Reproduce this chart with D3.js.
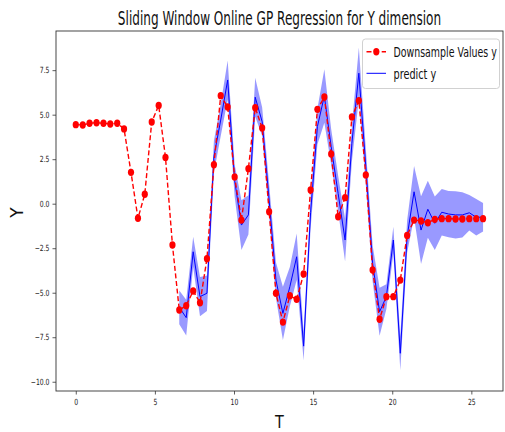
<!DOCTYPE html>
<html>
<head>
<meta charset="utf-8">
<script src="https://cdn.jsdelivr.net/npm/d3@7"></script>
<style>
  body { margin: 0; background: #fff; }
  svg { display: block; font-family: "DejaVu Sans", sans-serif; }
</style>
</head>
<body>
<div id="chart"></div>
<script>
// time stamps of the downsampled points
const T = [0, 0.44, 0.87, 1.31, 1.75, 2.18, 2.62, 3.05, 3.49, 3.93,
    4.36, 4.80, 5.24, 5.67, 6.11, 6.54, 6.98, 7.42, 7.85, 8.29,
    8.73, 9.16, 9.60, 10.04, 10.47, 10.91, 11.34, 11.78, 12.22, 12.65,
    13.09, 13.53, 13.96, 14.40, 14.84, 15.27, 15.71, 16.14, 16.58, 17.02,
    17.45, 17.89, 18.33, 18.76, 19.20, 19.63, 20.07, 20.51, 20.94, 21.38,
    21.82, 22.25, 22.69, 23.13, 23.56, 24.00, 24.43, 24.87, 25.31, 25.74];

const downsampleY = [4.44, 4.42, 4.52, 4.55, 4.52, 4.48, 4.52, 4.20, 1.76, -0.82,
    0.53, 4.59, 5.52, 2.60, -2.32, -5.97, -5.73, -4.90, -5.56, -3.09,
    2.19, 6.07, 5.43, 1.50, -0.92, 1.97, 5.39, 4.25, -0.45, -5.03,
    -6.65, -5.17, -5.37, -3.95, 0.77, 5.30, 5.99, 2.79, -0.73, 0.34,
    4.87, 5.79, 1.61, -3.72, -6.49, -5.22, -5.22, -4.29, -1.78, -0.92,
    -0.97, -1.07, -0.88, -0.84, -0.84, -0.86, -0.86, -0.84, -0.84, -0.84];

// GP prediction starts once the window is filled
const predictT = T.slice(15);
const predictY = [-5.82, -6.40, -2.70, -5.22, -5.03, 2.64, 4.70, 6.95, 1.30, -1.20,
    -0.63, 5.98, 4.60, 0.20, -4.29, -6.16, -4.66, -2.98, -8.00, -0.50,
    4.33, 6.05, 3.20, 0.58, -2.04, 3.39, 7.33, 2.08, -3.35, -6.07,
    -5.22, -2.04, -8.40, -1.85, 0.67, -1.48, -0.31, -1.10, -0.48, -0.58,
    -0.63, -0.63, -0.51, -0.76, -0.76];
const predictBand = [0.95, 1.0, 0.85, 1.1, 1.0, 0.9, 0.9, 1.1, 0.9, 1.4,
    1.1, 1.1, 0.8, 0.9, 1.0, 1.5, 1.1, 1.3, 0.8, 0.9,
    1.0, 1.5, 1.0, 1.0, 1.2, 1.0, 1.45, 1.0, 1.0, 1.35,
    0.7, 0.75, 0.95, 0.9, 1.45, 1.9, 1.6, 1.5, 1.3, 1.3,
    1.33, 1.27, 1.0, 1.03, 0.8];

const xTicks = [0, 5, 10, 15, 20, 25];
const yTicks = [-10, -7.5, -5, -2.5, 0, 2.5, 5, 7.5];

const W = 505, H = 432;
const plot = {left: 56, right: 503, top: 31, bottom: 391};
const squeeze = 0.72; // the picture is horizontally compressed

let svg = d3.select("#chart").append("svg")
    .attr("width", W)
    .attr("height", H);

let x = d3.scaleLinear().domain([-1.25, 27.0]).range([plot.left, plot.right]);
let y = d3.scaleLinear().domain([-10.52, 9.70]).range([plot.bottom, plot.top]);

// squeezed text placed at (px, py)
function label(parent, px, py, txt, size, k, anchor) {
    return parent.append("text")
        .attr("transform", "translate(" + px + "," + py + ") scale(" + k + ",1)")
        .attr("text-anchor", anchor || "start")
        .style("font-size", size + "px")
        .attr("fill", "#111")
        .text(txt);
}

// confidence band
let pred = predictT.map((t, i) => ({t: t, m: predictY[i], s: predictBand[i]}));
svg.append("path")
    .datum(pred)
    .attr("d", d3.area().x(d => x(d.t)).y0(d => y(d.m - d.s)).y1(d => y(d.m + d.s)))
    .attr("fill", "#0000ff")
    .attr("fill-opacity", 0.4)
    .attr("stroke", "none");

// prediction line
svg.append("path")
    .datum(pred)
    .attr("d", d3.line().x(d => x(d.t)).y(d => y(d.m)))
    .attr("fill", "none")
    .attr("stroke", "#0000ff")
    .attr("stroke-width", 1);

// downsampled values
let pts = T.map((t, i) => ({t: t, v: downsampleY[i]}));
svg.append("path")
    .datum(pts)
    .attr("d", d3.line().x(d => x(d.t)).y(d => y(d.v)))
    .attr("fill", "none")
    .attr("stroke", "#ff0000")
    .attr("stroke-width", 1.4)
    .attr("stroke-dasharray", "5,2.6");
svg.append("g").selectAll("ellipse")
    .data(pts)
    .enter().append("ellipse")
    .attr("cx", d => x(d.t))
    .attr("cy", d => y(d.v))
    .attr("rx", 3.1)
    .attr("ry", 3.7)
    .attr("fill", "#ff0000");

// axes
let xAxis = svg.append("g")
    .attr("transform", "translate(0," + plot.bottom + ")")
    .call(d3.axisBottom(x).tickValues(xTicks).tickFormat(d3.format("d")).tickSizeOuter(0).tickSize(3.5).tickPadding(4));
let yAxis = svg.append("g")
    .attr("transform", "translate(" + plot.left + ",0)")
    .call(d3.axisLeft(y).tickValues(yTicks).tickFormat(d => d3.format(".1f")(d).replace("-", "\u2212")).tickSizeOuter(0).tickSize(3.5).tickPadding(3));
[xAxis, yAxis].forEach(a => {
    a.select(".domain").remove();
    a.selectAll(".tick line").attr("stroke", "#333").attr("stroke-width", 0.8);
    a.selectAll(".tick text").attr("fill", "#222").style("font-size", "8.5px").style("font-family", "DejaVu Sans")
        .each(function () {
            let t = d3.select(this);
            t.attr("x", (+t.attr("x") || 0) / squeeze).attr("transform", "scale(" + squeeze + ",1)");
        });
});

// frame
svg.append("rect")
    .attr("x", plot.left).attr("y", plot.top)
    .attr("width", plot.right - plot.left).attr("height", plot.bottom - plot.top)
    .attr("fill", "none").attr("stroke", "#333").attr("stroke-width", 0.9);

// title and axis labels
label(svg, (plot.left + plot.right) / 2, 25, "Sliding Window Online GP Regression for Y dimension", 19, 0.636, "middle");
label(svg, (plot.left + plot.right) / 2, 428, "T", 18, 0.8, "middle");
svg.append("text")
    .attr("transform", "translate(23," + y(-0.5) + ") rotate(-90)")
    .attr("text-anchor", "middle")
    .style("font-size", "17px")
    .attr("fill", "#111")
    .text("Y");

// legend
let lg = svg.append("g");
lg.append("rect")
    .attr("x", 362.5).attr("y", 39).attr("width", 137).attr("height", 49.5)
    .attr("rx", 3)
    .attr("fill", "#fff").attr("fill-opacity", 0.85)
    .attr("stroke", "#ccc").attr("stroke-width", 0.9);
lg.append("line")
    .attr("x1", 366.5).attr("x2", 386).attr("y1", 51.7).attr("y2", 51.7)
    .attr("stroke", "#ff0000").attr("stroke-width", 1.4).attr("stroke-dasharray", "5,2.6");
lg.append("ellipse")
    .attr("cx", 376.3).attr("cy", 51.7).attr("rx", 3.1).attr("ry", 3.7).attr("fill", "#ff0000");
lg.append("line")
    .attr("x1", 366.5).attr("x2", 386).attr("y1", 73.3).attr("y2", 73.3)
    .attr("stroke", "#0000ff").attr("stroke-width", 1);
label(lg, 393.5, 57, "Downsample Values y", 14.5, 0.65);
label(lg, 393.5, 78.5, "predict y", 14.5, 0.67);
</script>
</body>
</html>
